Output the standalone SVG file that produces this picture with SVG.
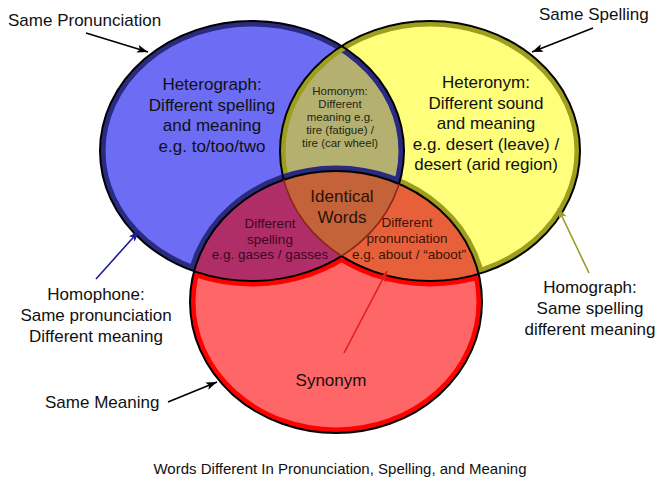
<svg xmlns="http://www.w3.org/2000/svg" xmlns:xlink="http://www.w3.org/1999/xlink" width="661" height="486" viewBox="0 0 661 486">
<style>
text{font-family:"Liberation Sans",Arial,sans-serif;text-anchor:middle;fill:#111}
.big{font-size:17px}
.mid{font-size:13.5px}
.sm{font-size:11.5px}
.lft{text-anchor:start}
.ln{fill:none;stroke-width:1.6}
</style>
<defs>
<ellipse id="B" cx="252" cy="151" rx="152" ry="130"/>
<ellipse id="Y" cx="430" cy="151" rx="150" ry="130"/>
<ellipse id="R" cx="336" cy="302" rx="146" ry="131"/>
<clipPath id="cB"><use href="#B"/></clipPath>
<clipPath id="cY"><use href="#Y"/></clipPath>
<clipPath id="cR"><use href="#R"/></clipPath>
<mask id="mNotR" maskUnits="userSpaceOnUse" x="0" y="0" width="661" height="486"><rect width="661" height="486" fill="#fff"/><use href="#R" fill="#000"/></mask>
<mask id="mNotBY" maskUnits="userSpaceOnUse" x="0" y="0" width="661" height="486"><rect width="661" height="486" fill="#fff"/><use href="#B" fill="#000"/><use href="#Y" fill="#000"/></mask>
<mask id="mRout" maskUnits="userSpaceOnUse" x="0" y="0" width="661" height="486"><rect width="661" height="486" fill="#000"/><use href="#R" fill="#fff"/><use href="#B" fill="#000"/><use href="#Y" fill="#000"/></mask>
<mask id="mBminusR" maskUnits="userSpaceOnUse" x="0" y="0" width="661" height="486"><rect width="661" height="486" fill="#000"/><use href="#B" fill="#fff"/><use href="#R" fill="#000"/></mask>
<mask id="mYonly" maskUnits="userSpaceOnUse" x="0" y="0" width="661" height="486"><rect width="661" height="486" fill="#000"/><use href="#Y" fill="#fff"/><use href="#B" fill="#000"/><use href="#R" fill="#000"/></mask>
<mask id="mNotRY" maskUnits="userSpaceOnUse" x="0" y="0" width="661" height="486"><rect width="661" height="486" fill="#fff"/><g clip-path="url(#cY)"><use href="#R" fill="#000"/></g></mask>
<mask id="mNotRB" maskUnits="userSpaceOnUse" x="0" y="0" width="661" height="486"><rect width="661" height="486" fill="#fff"/><g clip-path="url(#cB)"><use href="#R" fill="#000"/></g></mask>
<mask id="mRY" maskUnits="userSpaceOnUse" x="0" y="0" width="661" height="486"><rect width="661" height="486" fill="#000"/><g clip-path="url(#cY)"><use href="#R" fill="#fff"/></g></mask>
<mask id="mRB" maskUnits="userSpaceOnUse" x="0" y="0" width="661" height="486"><rect width="661" height="486" fill="#000"/><g clip-path="url(#cB)"><use href="#R" fill="#fff"/></g></mask>
<marker id="aK" markerUnits="userSpaceOnUse" markerWidth="11" markerHeight="8" refX="11" refY="4" orient="auto"><path d="M0,0 L11,4 L0,8 L2.5,4 z" fill="#000"/></marker>
<marker id="aN" markerUnits="userSpaceOnUse" markerWidth="11" markerHeight="8" refX="11" refY="4" orient="auto"><path d="M0,0 L11,4 L0,8 L2.5,4 z" fill="#1c1ca0"/></marker>
<marker id="aO" markerUnits="userSpaceOnUse" markerWidth="11" markerHeight="8" refX="11" refY="4" orient="auto"><path d="M0,0 L11,4 L0,8 L2.5,4 z" fill="#9a9a2a"/></marker>
<marker id="aR" markerUnits="userSpaceOnUse" markerWidth="11" markerHeight="8" refX="11" refY="4" orient="auto"><path d="M0,0 L11,4 L0,8 L2.5,4 z" fill="#e41b1b"/></marker>
</defs>
<rect width="661" height="486" fill="#fff"/>
<g id="venn">
<g id="fills">
<use href="#B" fill="#6c6cf5"/>
<use href="#Y" fill="#ffff7c"/>
<use href="#R" fill="#ff6668"/>
<g clip-path="url(#cB)"><use href="#Y" fill="#b4b070"/></g>
<g clip-path="url(#cB)"><use href="#R" fill="#b02e68"/></g>
<g clip-path="url(#cY)"><use href="#R" fill="#e8603a"/></g>
<g clip-path="url(#cB)"><g clip-path="url(#cY)"><use href="#R" fill="#c4623a"/></g></g>
</g>
<g id="rings">
<g mask="url(#mNotR)"><g clip-path="url(#cB)"><use href="#B" fill="none" stroke="#2a2a80" stroke-width="11"/></g></g>
<g mask="url(#mNotR)"><g clip-path="url(#cY)"><use href="#Y" fill="none" stroke="#9e9e1e" stroke-width="11"/></g></g>
<g mask="url(#mBminusR)"><use href="#R" fill="none" stroke="#2a2a80" stroke-width="11"/></g>
<g mask="url(#mYonly)"><use href="#R" fill="none" stroke="#9e9e1e" stroke-width="11"/></g>
<g mask="url(#mNotBY)"><g clip-path="url(#cR)"><use href="#R" fill="none" stroke="#ff0000" stroke-width="11"/></g></g>
<g mask="url(#mRout)"><use href="#B" fill="none" stroke="#ff0000" stroke-width="11"/><use href="#Y" fill="none" stroke="#ff0000" stroke-width="11"/></g>
</g>
<g id="outlines">
<use href="#R" fill="none" stroke="#000" stroke-width="2"/>
<g mask="url(#mNotRY)"><use href="#B" fill="none" stroke="#000" stroke-width="2"/></g>
<g mask="url(#mNotRB)"><use href="#Y" fill="none" stroke="#000" stroke-width="2"/></g>
<g mask="url(#mRY)"><use href="#B" fill="none" stroke="#8a2418" stroke-width="1.5"/></g>
<g mask="url(#mRB)"><use href="#Y" fill="none" stroke="#8a2418" stroke-width="1.5"/></g>
</g>
</g>
<g id="heterograph">
<text class="big" x="212" y="90">Heterograph:</text>
<text class="big" x="212" y="110.5">Different spelling</text>
<text class="big" x="212" y="131">and meaning</text>
<text class="big" x="212" y="151.5">e.g. to/too/two</text>
</g>
<g id="heteronym">
<text class="big" x="486" y="88">Heteronym:</text>
<text class="big" x="486" y="108.5">Different sound</text>
<text class="big" x="486" y="129">and meaning</text>
<text class="big" x="486" y="149.5">e.g. desert (leave) /</text>
<text class="big" x="486" y="170">desert (arid region)</text>
</g>
<g id="homonym">
<text class="sm" x="340" y="95" style="fill:#262610">Homonym:</text>
<text class="sm" x="340" y="108" style="fill:#262610">Different</text>
<text class="sm" x="340" y="121" style="fill:#262610">meaning e.g.</text>
<text class="sm" x="340" y="134" style="fill:#262610">tire (fatigue) /</text>
<text class="sm" x="340" y="147" style="fill:#262610">tire (car wheel)</text>
</g>
<g id="identical">
<text class="big" x="342" y="202" style="fill:#2a1208">Identical</text>
<text class="big" x="342" y="223" style="fill:#2a1208">Words</text>
</g>
<g id="different-spelling">
<text class="mid" x="270" y="228" style="fill:#3a0820">Different</text>
<text class="mid" x="270" y="243.5" style="fill:#3a0820">spelling</text>
<text class="mid" x="270" y="259" style="fill:#3a0820">e.g. gases / gasses</text>
</g>
<g id="different-pronunciation">
<text class="mid" x="407" y="227" style="fill:#3a1208">Different</text>
<text class="mid" x="407" y="243" style="fill:#3a1208">pronunciation</text>
<text class="mid" x="409" y="259" style="fill:#3a1208">e.g. about / “aboot”</text>
</g>
<g id="synonym">
<text class="big" x="331" y="386">Synonym</text>
</g>
<g id="same-pronunciation"><text class="big lft" x="8" y="26">Same Pronunciation</text></g>
<g id="same-spelling"><text class="big lft" x="539" y="20">Same Spelling</text></g>
<g id="homophone">
<text class="big" x="96" y="300">Homophone:</text>
<text class="big" x="96" y="321">Same pronunciation</text>
<text class="big" x="96" y="341.5">Different meaning</text>
</g>
<g id="homograph">
<text class="big" x="590" y="293">Homograph:</text>
<text class="big" x="590" y="314">Same spelling</text>
<text class="big" x="590" y="335">different meaning</text>
</g>
<g id="same-meaning"><text class="big lft" x="45" y="408">Same Meaning</text></g>
<g id="title"><text x="340" y="474" style="font-size:15px">Words Different In Pronunciation, Spelling, and Meaning</text></g>
<g id="connectors">
<line class="ln" x1="86" y1="33" x2="148" y2="52" stroke="#000" marker-end="url(#aK)"/>
<line class="ln" x1="593" y1="28" x2="532" y2="52" stroke="#000" marker-end="url(#aK)"/>
<line class="ln" x1="96" y1="279" x2="139" y2="231" stroke="#1c1ca0" marker-end="url(#aN)"/>
<line class="ln" x1="589" y1="273" x2="558" y2="208" stroke="#9a9a2a" marker-end="url(#aO)"/>
<line class="ln" x1="168" y1="402" x2="217" y2="382" stroke="#000" marker-end="url(#aK)"/>
<line class="ln" x1="344" y1="353" x2="387" y2="271" stroke="#e41b1b" marker-end="url(#aR)"/>
</g>
</svg>
